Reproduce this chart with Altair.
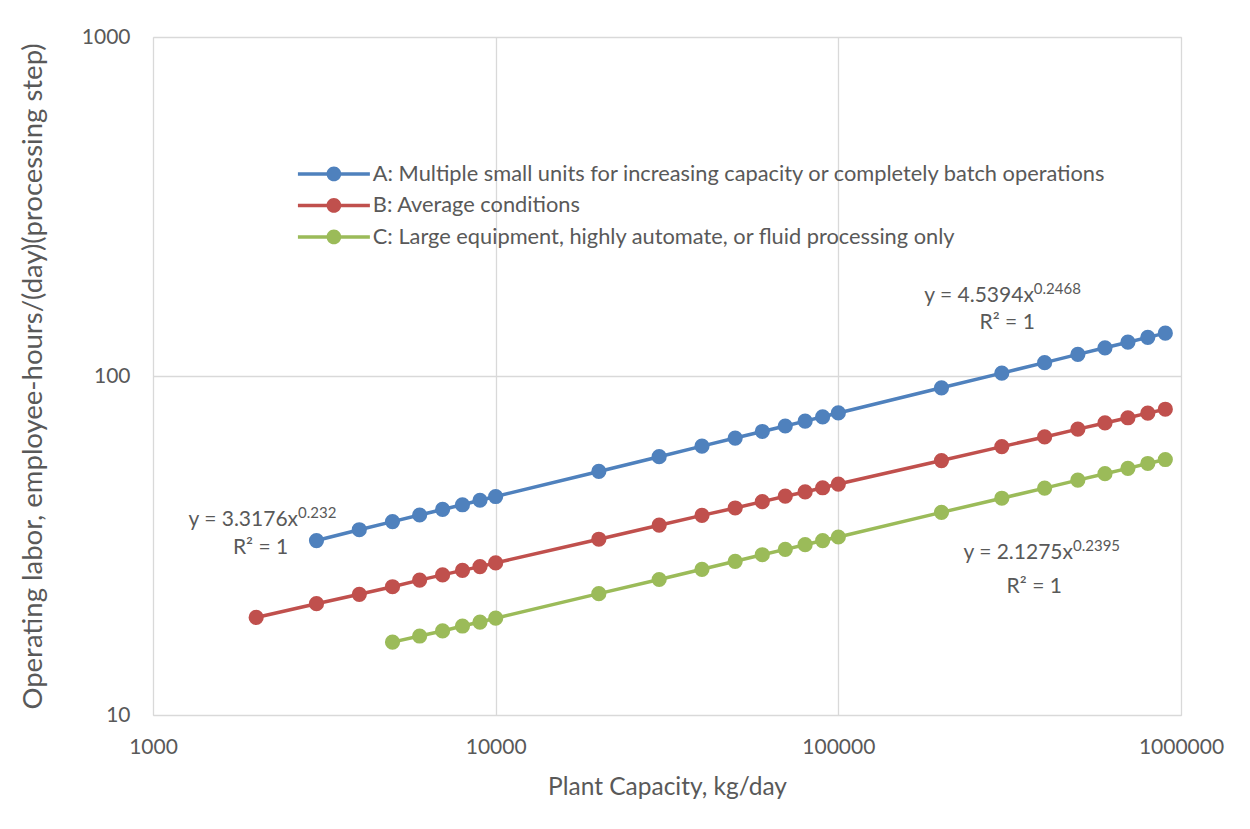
import altair as alt
import pandas as pd

FONT = "Lato"
TXT = "#595959"

series_names = [
    "A: Multiple small units for increasing capacity or completely batch operations",
    "B: Average conditions",
    "C: Large equipment, highly automate, or fluid processing only",
]
colors = ["#4F81BD", "#C0504D", "#9BBB59"]

cap_a = [3000, 4000, 5000, 6000, 7000, 8000, 9000, 10000, 20000, 30000, 40000, 50000,
         60000, 70000, 80000, 90000, 100000, 200000, 300000, 400000, 500000, 600000,
         700000, 800000, 900000]
labor_a = [32.7, 35.2, 37.2, 38.9, 40.4, 41.7, 43.0, 44.1, 52.3, 57.8, 62.1, 65.6,
           68.6, 71.2, 73.6, 75.8, 77.8, 92.3, 102.0, 109.5, 115.8, 121.1,
           125.8, 130.0, 133.8]

cap_b = [2000, 3000, 4000, 5000, 6000, 7000, 8000, 9000, 10000, 20000, 30000, 40000,
         50000, 60000, 70000, 80000, 90000, 100000, 200000, 300000, 400000, 500000,
         600000, 700000, 800000, 900000]
labor_b = [19.4, 21.3, 22.7, 23.9, 25.0, 25.9, 26.7, 27.4, 28.1, 33.0, 36.3, 38.8,
           40.8, 42.6, 44.2, 45.5, 46.8, 48.0, 56.3, 61.9, 66.1, 69.7,
           72.7, 75.3, 77.7, 79.8]

cap_c = [5000, 6000, 7000, 8000, 9000, 10000, 20000, 30000, 40000, 50000, 60000,
         70000, 80000, 90000, 100000, 200000, 300000, 400000, 500000, 600000, 700000,
         800000, 900000]
labor_c = [16.4, 17.1, 17.7, 18.3, 18.8, 19.3, 22.8, 25.1, 26.9, 28.4, 29.7,
           30.8, 31.8, 32.7, 33.5, 39.6, 43.6, 46.7, 49.3, 51.5, 53.4,
           55.2, 56.7]

# trendline equation annotations
eq_main = ["y = 4.5394x", "y = 3.3176x", "y = 2.1275x"]
eq_exp = ["0.2468", "0.232", "0.2395"]
eq_x = [372000, 2650, 484000]
eq_y = [172.0, 37.6, 30.1]
r2_text = ["R² = 1", "R² = 1", "R² = 1"]
r2_x = [311000, 2060, 373000]
r2_y = [143.3, 31.1, 23.9]

x_ticks = [1000, 10000, 100000, 1000000]
y_ticks = [10, 100, 1000]

rows = []
for name, xs, ys in zip(series_names, [cap_a, cap_b, cap_c], [labor_a, labor_b, labor_c]):
    for xv, yv in zip(xs, ys):
        rows.append({"series": name, "cap": xv, "labor": yv})
df = pd.DataFrame(rows)

ann = pd.DataFrame({"main": eq_main, "exp": eq_exp, "ex": eq_x, "ey": eq_y,
                    "r2": r2_text, "rx": r2_x, "ry": r2_y})

xscale = alt.Scale(type="log", domain=[1000, 1000000], nice=False)
yscale = alt.Scale(type="log", domain=[10, 1000], nice=False)
cscale = alt.Scale(domain=series_names, range=colors)

xaxis = alt.Axis(values=x_ticks, format="d", title="Plant Capacity, kg/day",
                 grid=True, gridColor="#D9D9D9", gridWidth=1.3, ticks=False, domain=False,
                 labelFont=FONT, labelFontSize=21, labelColor=TXT, labelPadding=21,
                 titleFont=FONT, titleFontSize=24.5, titleColor=TXT, titleFontWeight="normal",
                 titleY=72, titleBaseline="middle", labelFlush=False)
yaxis = alt.Axis(values=y_ticks, format="d",
                 title="Operating labor, employee-hours/(day)(processing step)",
                 grid=True, gridColor="#D9D9D9", gridWidth=1.3, ticks=False, domain=False,
                 labelFont=FONT, labelFontSize=21, labelColor=TXT, labelPadding=23,
                 titleFont=FONT, titleFontSize=27.5, titleColor=TXT, titleFontWeight="normal",
                 titleX=-120, titleY=339, titleBaseline="middle", labelFlush=False)

# legend symbol: a line with a circle at its middle (unit = 7 px)
sym_path = ("M-5.14,-0.25H-0.95V0.25H-5.14Z M0.95,-0.25H5.14V0.25H0.95Z "
            "M1.05,0A1.05,1.05 0 1,1 -1.05,0A1.05,1.05 0 1,1 1.05,0Z")

legend = alt.Legend(
    title=None, orient="none", legendX=170, legendY=126,
    symbolType=sym_path, symbolSize=196, symbolStrokeWidth=0, symbolOpacity=1,
    labelFont=FONT, labelFontSize=21.8, labelColor=TXT, labelOffset=28,
    rowPadding=8.5, labelLimit=1000)

base = alt.Chart(df)
lines = base.mark_line(strokeWidth=3.5).encode(
    x=alt.X("cap:Q", scale=xscale, axis=xaxis),
    y=alt.Y("labor:Q", scale=yscale, axis=yaxis),
    color=alt.Color("series:N", scale=cscale, legend=legend),
    detail="series:N",
)
points = base.mark_point(filled=True, opacity=1, size=230).encode(
    x=alt.X("cap:Q", scale=xscale),
    y=alt.Y("labor:Q", scale=yscale),
    color=alt.Color("series:N", scale=cscale, legend=legend),
)

abase = alt.Chart(ann)
t_main = abase.mark_text(align="right", baseline="middle", font=FONT, fontSize=21, color=TXT).encode(
    x=alt.X("ex:Q", scale=xscale), y=alt.Y("ey:Q", scale=yscale), text="main:N")
t_exp = abase.mark_text(align="left", baseline="middle", font=FONT, fontSize=15, color=TXT, dy=-7).encode(
    x=alt.X("ex:Q", scale=xscale), y=alt.Y("ey:Q", scale=yscale), text="exp:N")
t_r2 = abase.mark_text(align="center", baseline="middle", font=FONT, fontSize=21, color=TXT).encode(
    x=alt.X("rx:Q", scale=xscale), y=alt.Y("ry:Q", scale=yscale), text="r2:N")

chart = alt.layer(lines, points, t_main, t_exp, t_r2).properties(
    width=1028, height=678,
    autosize=alt.AutoSizeParams(type="none"),
    padding={"left": 145, "top": 29, "right": 50, "bottom": 90},
).configure_view(stroke="#BFBFBF", strokeWidth=2).configure(background="white")

chart.save("out.html", embed_options={"renderer": "svg", "actions": False})
